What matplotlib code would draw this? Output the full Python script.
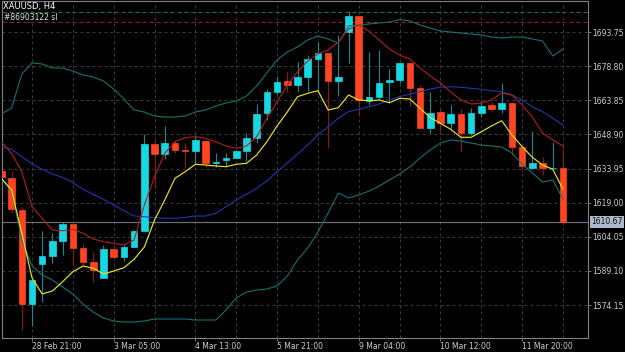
# XAUUSD H4 — свечи + Bollinger + две скользящие

import numpy as np
import matplotlib.pyplot as plt
from matplotlib.transforms import blended_transform_factory

# свечи
opens = [1633.0, 1629.93, 1615.79, 1574.5, 1592.15, 1595.64, 1602.34, 1609.52, 1599.01, 1593.14,
         1586.13, 1598.7, 1595.33, 1599.71, 1606.72, 1644.69, 1640.18, 1645.0, 1642.28, 1641.63,
         1646.14, 1636.24, 1637.69, 1638.69, 1641.76, 1647.19, 1658.14, 1667.6, 1672.16, 1670.54,
         1674.17, 1681.92, 1684.42, 1672.29, 1693.88, 1700.76, 1663.53, 1665.41, 1671.98, 1672.73,
         1680.04, 1669.09, 1651.83, 1658.58, 1653.76, 1657.83, 1649.64, 1658.4, 1661.64, 1660.16,
         1662.52, 1643.51, 1634.31, 1636.24, 1633.97, 1634.05]
highs = [1634.2, 1633.0, 1617.23, 1585.13, 1606.59, 1605.58, 1610.66, 1610.66, 1600.76, 1597.52,
         1600.46, 1600.46, 1600.46, 1606.9, 1649.29, 1646.45, 1652.58, 1646.45, 1645.0, 1648.64,
         1646.3, 1640.88, 1640.88, 1642.07, 1649.38, 1662.21, 1668.65, 1674.48, 1676.36, 1680.74,
         1683.68, 1689.5, 1684.7, 1692.44, 1703.08, 1700.9, 1685.12, 1685.87, 1677.41, 1680.2,
         1680.2, 1670.54, 1667.34, 1661.03, 1661.78, 1659.89, 1660.33, 1663.97, 1663.22, 1671.28,
         1662.6, 1643.6, 1650.39, 1638.87, 1645.7, 1643.82]
lows = [1629.8, 1614.47, 1563.23, 1565.11, 1575.62, 1592.7, 1596.08, 1591.7, 1591.7, 1584.38,
        1586.0, 1594.76, 1593.58, 1599.5, 1606.5, 1625.42, 1638.12, 1640.75, 1634.05, 1636.5,
        1634.75, 1634.75, 1635.19, 1638.56, 1637.38, 1645.26, 1655.21, 1666.16, 1667.6, 1667.6,
        1668.04, 1668.35, 1642.81, 1665.72, 1680.04, 1656.96, 1661.78, 1663.97, 1662.52, 1671.28,
        1661.34, 1651.7, 1649.38, 1650.52, 1651.13, 1641.76, 1648.64, 1656.65, 1659.28, 1658.4,
        1639.88, 1633.0, 1634.2, 1631.12, 1633.9, 1609.65]
closes = [1630.37, 1616.09, 1574.48, 1585.13, 1595.64, 1602.21, 1609.52, 1599.27, 1593.14, 1589.51,
          1598.57, 1595.33, 1599.71, 1606.72, 1644.69, 1640.31, 1645.13, 1642.07, 1641.85, 1646.45,
          1636.24, 1636.81, 1638.56, 1641.76, 1647.19, 1657.83, 1667.34, 1671.85, 1670.54, 1673.91,
          1681.92, 1684.42, 1672.29, 1674.17, 1700.76, 1663.97, 1665.15, 1671.54, 1672.73, 1680.04,
          1669.35, 1651.83, 1658.4, 1653.76, 1657.83, 1649.64, 1658.4, 1661.34, 1660.16, 1662.78,
          1643.51, 1635.06, 1636.24, 1634.05, 1634.1, 1610.67]

# индикаторы
ma_yellow = [1629.67, 1624.55, 1605.58, 1586.01, 1579.0, 1580.31, 1584.39, 1588.77, 1591.26, 1590.25,
             1587.76, 1589.07, 1590.52, 1594.2, 1599.58, 1611.41, 1620.17, 1629.67, 1632.57, 1635.81,
             1635.5, 1635.06, 1634.76, 1635.81, 1636.24, 1639.88, 1645.71, 1652.58, 1658.71, 1665.42,
             1666.9, 1668.04, 1659.59, 1660.6, 1666.16, 1663.97, 1663.66, 1663.97, 1662.79, 1664.71,
             1664.41, 1660.33, 1656.3, 1653.76, 1651.14, 1647.63, 1647.63, 1650.09, 1652.58, 1654.9,
             1648.64, 1643.52, 1638.87, 1635.5, 1633.62, 1624.86]
ma_red = [1645.71, 1640.62, 1632.57, 1617.24, 1612.15, 1607.03, 1606.72, 1607.34, 1605.58, 1603.09,
          1601.91, 1601.2, 1600.46, 1602.65, 1617.98, 1630.38, 1640.62, 1645.71, 1647.46, 1647.9,
          1647.19, 1645.71, 1643.82, 1642.81, 1643.82, 1647.9, 1655.95, 1663.23, 1670.54, 1676.23,
          1681.05, 1684.12, 1685.87, 1689.37, 1695.07, 1696.82, 1694.19, 1690.25, 1686.31, 1683.68,
          1681.93, 1677.99, 1674.48, 1671.42, 1667.47, 1663.97, 1662.22, 1662.66, 1663.97, 1667.04,
          1666.16, 1661.78, 1656.52, 1649.52, 1646.45, 1643.82]
bb_mid = [1643.52, 1642.38, 1639.14, 1635.94, 1633.62, 1631.56, 1630.11, 1627.75, 1624.86, 1622.67,
          1620.48, 1617.98, 1615.48, 1613.16, 1612.86, 1612.42, 1612.15, 1612.15, 1612.59, 1613.16,
          1613.16, 1614.34, 1617.24, 1620.17, 1622.67, 1625.29, 1628.49, 1632.57, 1636.38, 1640.32,
          1644.26, 1648.64, 1652.28, 1655.95, 1658.85, 1659.9, 1661.04, 1662.22, 1663.97, 1665.42,
          1666.47, 1667.61, 1668.79, 1669.53, 1669.8, 1669.53, 1669.09, 1668.66, 1668.04, 1667.61,
          1666.16, 1663.97, 1661.04, 1658.85, 1655.95, 1653.02]
bb_up = [1657.84, 1660.47, 1675.36, 1680.18, 1679.74, 1677.99, 1677.99, 1676.67, 1674.92, 1674.04,
         1672.29, 1668.79, 1664.41, 1659.59, 1658.71, 1656.96, 1656.52, 1656.52, 1656.96, 1658.71,
         1659.59, 1661.34, 1662.66, 1663.53, 1665.72, 1670.1, 1675.8, 1681.49, 1684.99, 1687.18,
         1690.25, 1692.0, 1690.69, 1688.94, 1696.38, 1696.82, 1697.26, 1697.7, 1698.13, 1699.23,
         1698.57, 1696.82, 1695.51, 1694.19, 1693.75, 1693.32, 1692.88, 1692.44, 1691.56, 1691.13,
         1691.56, 1691.56, 1690.69, 1689.81, 1683.24, 1686.31]
bb_low = [1629.37, 1624.11, 1602.65, 1591.26, 1587.32, 1585.13, 1582.06, 1579.0, 1574.62, 1571.11,
          1568.49, 1567.17, 1566.73, 1566.73, 1567.17, 1568.05, 1568.05, 1568.05, 1568.05, 1567.61,
          1567.61, 1567.61, 1571.99, 1577.25, 1579.87, 1580.75, 1581.19, 1582.5, 1586.88, 1593.89,
          1599.15, 1606.15, 1614.48, 1623.24, 1621.05, 1622.36, 1624.11, 1626.3, 1628.93, 1631.56,
          1634.62, 1638.57, 1642.07, 1645.14, 1646.45, 1646.01, 1645.14, 1644.26, 1643.82, 1643.38,
          1640.76, 1635.94, 1632.0, 1628.05, 1628.93, 1620.61]

# уровни ордера
tp_level = 1702.51
sl_level = 1698.13

y_ticks = [1693.75, 1678.80, 1663.85, 1648.90, 1633.95, 1619.00, 1604.05, 1589.10, 1574.15]
x_label_pos = [3, 11, 19, 27, 35, 43, 51]
x_labels = ['28 Feb 21:00', '3 Mar 05:00', '4 Mar 13:00', '5 Mar 21:00',
            '9 Mar 04:00', '10 Mar 12:00', '11 Mar 20:00']

o = np.array(opens)
h = np.array(highs)
l = np.array(lows)
c = np.array(closes)
x = np.arange(len(o))
up = c >= o

fig = plt.figure(figsize=(6.25, 3.52), dpi=100, facecolor='black')
ax = fig.add_axes([2 / 625, 1 - 338 / 352, 586 / 625, 337 / 352])
ax.set_facecolor('black')
ax.set_xlim(0.06, 57.45)
ax.set_ylim(1559.73, 1707.33)

# сетка
for yv in y_ticks:
    ax.axhline(yv, color='#3a3a3a', lw=0.72, ls=(0, (3, 3)), zorder=0)
for xv in range(3, len(x), 4):
    ax.axvline(xv, color='#3a3a3a', lw=0.72, ls=(0, (3, 3)), zorder=0)

# линии ордера и текущей цены
ax.axhline(tp_level, color='#1d7a1d', lw=0.72, ls=(0, (4, 3)), zorder=1)
ax.axhline(sl_level, color='#b01818', lw=0.72, ls=(0, (4, 3)), zorder=1)
ax.axhline(c[-1], color='#6b6b78', lw=0.9, zorder=1)

# свечи
wick_col = np.where(up, '#168a90', '#8c1a12')
body_col = np.where(up, '#16d8e4', '#ff4422')
ax.vlines(x, l, h, colors=wick_col, lw=0.8, zorder=2)
ax.bar(x, np.maximum(np.abs(c - o), 0.3), bottom=np.minimum(o, c), width=0.64,
       color=body_col, edgecolor=body_col, lw=0.5, zorder=3)

# индикаторы
ax.plot(x, bb_up, color='#137272', lw=0.8, zorder=4)
ax.plot(x, bb_low, color='#137272', lw=0.8, zorder=4)
ax.plot(x, bb_mid, color='#2036b0', lw=0.8, zorder=4)
ax.plot(x, ma_red, color='#b41e1e', lw=0.8, zorder=4)
ax.plot(x, ma_yellow, color='#e8e41a', lw=0.85, zorder=5)

# оси
for s in ax.spines.values():
    s.set_color('#808080')
    s.set_linewidth(0.8)
ax.yaxis.tick_right()
ax.set_yticks(y_ticks)
ax.set_yticklabels([f'{v:.2f}' for v in y_ticks])
ax.set_xticks(x_label_pos)
ax.set_xticklabels(x_labels, ha='left')
ax.tick_params(axis='both', colors='#808080', labelcolor='#cfcfcf', labelsize=5.5,
               length=2.2, width=0.6, pad=1)

tr = blended_transform_factory(ax.transAxes, ax.transData)
ax.text(1.006, c[-1], f'{c[-1]:.2f}', transform=tr, ha='left', va='center', fontsize=5.5,
        color='#111111', bbox=dict(boxstyle='square,pad=0.2', fc='#a9b9c9', ec='none'),
        clip_on=False)

fig.text(3 / 625, 1 - 7 / 352, 'XAUUSD, H4', color='white', fontsize=6, va='center')
fig.text(4 / 625, 1 - 17 / 352, '#86903122 sl', color='#e0e0e0', fontsize=5.5, va='center')

plt.savefig('out.png', dpi=100, facecolor='black')
